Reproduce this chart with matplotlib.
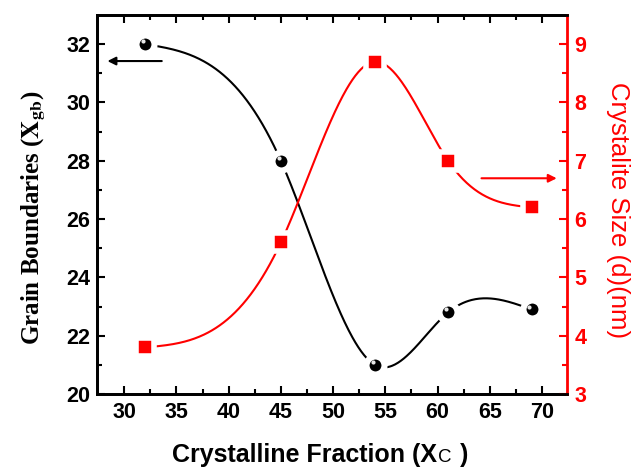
import numpy as np
import matplotlib
matplotlib.use("Agg")
import matplotlib.pyplot as plt
from matplotlib.offsetbox import TextArea, HPacker, AnchoredOffsetbox

# Data
xc = [32, 45, 54, 61, 69]
grain_boundaries = [32.0, 28.0, 21.0, 22.8, 22.9]
crystallite_size = [3.8, 5.6, 8.7, 7.0, 6.2]


def natural_spline(x, y, n=400):
    x = np.asarray(x, float)
    y = np.asarray(y, float)
    k = len(x)
    h = np.diff(x)
    A = np.zeros((k, k))
    b = np.zeros(k)
    A[0, 0] = 1
    A[-1, -1] = 1
    for i in range(1, k - 1):
        A[i, i - 1] = h[i - 1]
        A[i, i] = 2 * (h[i - 1] + h[i])
        A[i, i + 1] = h[i]
        b[i] = 6 * ((y[i + 1] - y[i]) / h[i] - (y[i] - y[i - 1]) / h[i - 1])
    M = np.linalg.solve(A, b)
    xs = np.linspace(x[0], x[-1], n)
    ys = np.empty_like(xs)
    for j, t in enumerate(xs):
        i = min(np.searchsorted(x, t, side="right") - 1, k - 2)
        dx1 = x[i + 1] - t
        dx0 = t - x[i]
        hi = h[i]
        ys[j] = (M[i] * dx1 ** 3 / (6 * hi) + M[i + 1] * dx0 ** 3 / (6 * hi)
                 + (y[i] / hi - M[i] * hi / 6) * dx1
                 + (y[i + 1] / hi - M[i + 1] * hi / 6) * dx0)
    return xs, ys


plt.rcParams['font.family'] = ['Liberation Sans', 'DejaVu Sans']
plt.rcParams['mathtext.fontset'] = 'stix'

fig = plt.figure(figsize=(6.38, 4.68), dpi=100)
ax = fig.add_axes([0.152, 0.158, 0.737, 0.810])
ax2 = ax.twinx()

RED = '#ff0000'

# black curve
sx, sy = natural_spline(xc, grain_boundaries)
ax.plot(sx, sy, color='black', lw=1.5, zorder=2)
ax.plot(xc, grain_boundaries, 'o', ms=13, mfc='black', mec='white', mew=4.4, zorder=3)
ax.plot(np.array(xc) - 0.22, np.array(grain_boundaries) + 0.1, 'o', ms=3,
        mfc='#e8e8e8', mec='none', zorder=4)

# red curve
rx, ry = natural_spline(xc, crystallite_size)
ax2.plot(rx, ry, color=RED, lw=1.5, zorder=2)
ax2.plot(xc, crystallite_size, 's', ms=12.5, mfc=RED, mec='white', mew=4.0, zorder=3)

# arrows
ax.annotate('', xy=(28.4, 31.42), xytext=(33.6, 31.42),
            arrowprops=dict(arrowstyle='-|>', color='black', lw=1.5,
                            mutation_scale=12, shrinkA=0, shrinkB=0))
ax2.annotate('', xy=(71.4, 6.70), xytext=(64.2, 6.70),
             arrowprops=dict(arrowstyle='-|>', color=RED, lw=1.5,
                             mutation_scale=12, shrinkA=0, shrinkB=0))

ax.set_xlim(27.4, 72.4)
ax.set_ylim(20, 33)
ax2.set_ylim(3, 9.5)

ax.set_xticks([30, 35, 40, 45, 50, 55, 60, 65, 70])
ax.set_xticks(np.arange(32.5, 72, 5), minor=True)
ax.set_yticks([20, 22, 24, 26, 28, 30, 32])
ax.set_yticks([21, 23, 25, 27, 29, 31], minor=True)
ax2.set_yticks([3, 4, 5, 6, 7, 8, 9])
ax2.set_yticks(np.arange(3.5, 9.5, 1.0), minor=True)

ax.tick_params(axis='both', which='both', direction='in', width=1.5,
               labelsize=15.5, top=True)
ax.tick_params(which='major', length=6)
ax.tick_params(which='minor', length=3.5)
ax.tick_params(axis='y', right=False, pad=5)
ax.tick_params(axis='x', pad=6)
for lab in ax.get_xticklabels() + ax.get_yticklabels():
    lab.set_fontweight('bold')

ax2.tick_params(axis='y', which='both', direction='in', width=1.5, colors=RED,
                labelsize=15.5, pad=5)
ax2.tick_params(which='major', length=6)
ax2.tick_params(which='minor', length=3.5)
for lab in ax2.get_yticklabels():
    lab.set_fontweight('bold')

for s in ax.spines.values():
    s.set_linewidth(2)
for s in ax2.spines.values():
    s.set_linewidth(2)
ax2.spines['right'].set_color(RED)
ax.spines['right'].set_visible(False)

# x label with small C
parts = HPacker(children=[
    TextArea('Crystalline Fraction (X',
             textprops=dict(fontsize=18, fontweight='bold', color='black')),
    TextArea('C', textprops=dict(fontsize=13.5, color='black')),
    TextArea(' )', textprops=dict(fontsize=18, fontweight='bold', color='black')),
], align='baseline', pad=0, sep=1)
box = AnchoredOffsetbox(loc='center', child=parts, pad=0, borderpad=0, frameon=False,
                        bbox_to_anchor=(0.502, 0.028), bbox_transform=fig.transFigure)
fig.add_artist(box)

ax.set_ylabel(r'Grain Boundaries ($\mathbf{X_{gb}}$)', fontsize=18,
              fontweight='bold', family='Liberation Serif')
ax.yaxis.label.set_va('center')
ax.yaxis.set_label_coords(-0.134, 0.464)

ax2.set_ylabel('Crystalite Size (d)(nm)', fontsize=18.5, color=RED, rotation=270)
ax2.yaxis.label.set_va('center')
ax2.yaxis.set_label_coords(1.109, 0.485)

fig.savefig('out.png', dpi=100)
